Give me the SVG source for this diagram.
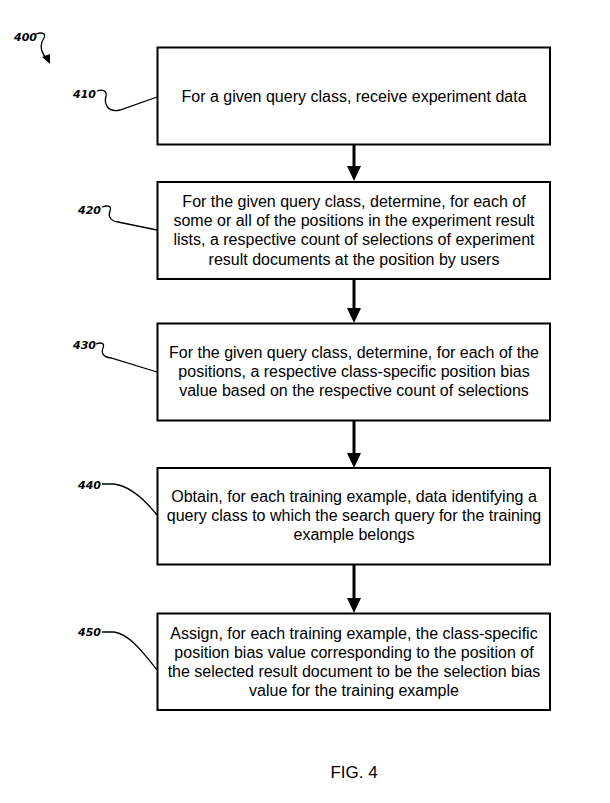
<svg xmlns="http://www.w3.org/2000/svg" width="610" height="803" viewBox="0 0 610 803">
<defs>
<style>
.box{fill:#fff;stroke:#000;stroke-width:2}
.t{font-family:"Liberation Sans",Arial,sans-serif;font-size:16px;fill:#000;text-anchor:middle}
.ref{font-family:"DejaVu Sans",sans-serif;font-size:11px;font-style:italic;font-weight:bold;fill:#000}
.lead{fill:none;stroke:#000;stroke-width:1.3}
.arr{stroke:#000;stroke-width:3}
</style>
</defs>
<rect width="610" height="803" fill="#fff"/>
<g id="label400">
<text class="ref" x="14" y="41">400</text>
<path class="lead" d="M36,34 C42,32 46,33 44,38 C40,44 40,52 48,60" />
<path d="M42,57 L50,64 L50,54 Z" fill="#000"/>
</g>
<g id="connectors">
<line class="arr" x1="354" y1="145" x2="354" y2="168"/>
<path d="M347,166 L361,166 L354,181 Z" fill="#000"/>
<line class="arr" x1="354" y1="280" x2="354" y2="310"/>
<path d="M347,308 L361,308 L354,323 Z" fill="#000"/>
<line class="arr" x1="354" y1="421" x2="354" y2="455"/>
<path d="M347,453 L361,453 L354,468 Z" fill="#000"/>
<line class="arr" x1="354" y1="565" x2="354" y2="600"/>
<path d="M347,598 L361,598 L354,613 Z" fill="#000"/>
<path class="lead" d="M97,91 C103,89 107,91 106,96 C104,103 107,113 120,110 L157,97"/>
<path class="lead" d="M102,207 C108,205 112,206 110,211 C108,216 110,221 118,222 L157,230"/>
<path class="lead" d="M96,344 C101,342 105,343 103,348 C101,353 103,357 111,358 L157,372"/>
<path class="lead" d="M102,484 L114,484 C130,486 145,500 157,515"/>
<path class="lead" d="M102,632 L114,632 C130,634 145,655 157,670"/>
</g>
<g id="n410">
<rect class="box" x="157.5" y="47.5" width="392.5" height="97"/>
<text class="ref" x="73" y="98">410</text>
<text class="t" x="354" y="101.5">For a given query class, receive experiment data</text>
</g>
<g id="n420">
<rect class="box" x="157.5" y="182" width="392.5" height="97"/>
<text class="ref" x="78" y="214">420</text>
<text class="t" x="354" y="207">For the given query class, determine, for each of</text>
<text class="t" x="354" y="226.2">some or all of the positions in the experiment result</text>
<text class="t" x="354" y="245.3">lists, a respective count of selections of experiment</text>
<text class="t" x="354" y="264.5">result documents at the position by users</text>
</g>
<g id="n430">
<rect class="box" x="157.5" y="323.5" width="392.5" height="97"/>
<text class="ref" x="73" y="349">430</text>
<text class="t" x="354" y="358.2">For the given query class, determine, for each of the</text>
<text class="t" x="354" y="377.2">positions, a respective class-specific position bias</text>
<text class="t" x="354" y="396.2">value based on the respective count of selections</text>
</g>
<g id="n440">
<rect class="box" x="157.5" y="468" width="392.5" height="96.5"/>
<text class="ref" x="78" y="489">440</text>
<text class="t" x="354" y="502">Obtain, for each training example, data identifying a</text>
<text class="t" x="354" y="521">query class to which the search query for the training</text>
<text class="t" x="354" y="540">example belongs</text>
</g>
<g id="n450">
<rect class="box" x="157.5" y="613.5" width="392.5" height="96.5"/>
<text class="ref" x="78" y="636">450</text>
<text class="t" x="354" y="638.5">Assign, for each training example, the class-specific</text>
<text class="t" x="354" y="657.5">position bias value corresponding to the position of</text>
<text class="t" x="354" y="676.5">the selected result document to be the selection bias</text>
<text class="t" x="354" y="695.5">value for the training example</text>
</g>
<text x="354" y="778" font-family="Liberation Sans, Arial, sans-serif" font-size="17" text-anchor="middle">FIG. 4</text>
</svg>
